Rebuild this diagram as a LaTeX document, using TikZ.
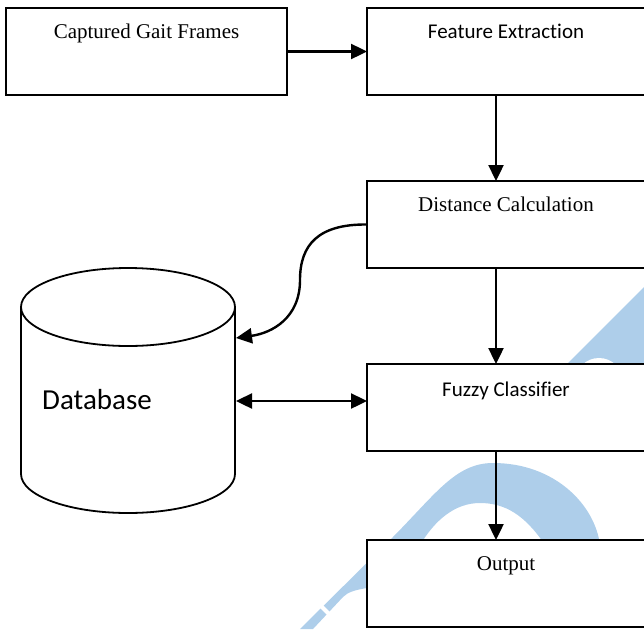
\documentclass[tikz,border=0pt]{standalone}
\usepackage{fontspec}
\setmainfont{Liberation Serif}
\newfontfamily\calibrifont[Ligatures=NoCommon]{Carlito}
\usepackage{tikz}
\usetikzlibrary{arrows.meta,positioning,calc}
\definecolor{markblue}{RGB}{174,206,234}
\tikzset{
  procbox/.style={draw, line width=2pt, fill=white, inner sep=0pt,
                  outer sep=0pt, minimum width=#1, minimum height=87pt},
  procbox/.default=278pt,
  seriflbl/.style={font=\fontsize{21}{25}\selectfont, anchor=base, inner sep=0pt},
  sanslbl/.style ={font=\calibrifont\fontsize{21}{25}\selectfont, anchor=base, inner sep=0pt},
  dbline/.style  ={line width=1.8pt},
  arr/.style     ={-{Triangle[length=16pt,width=15pt]}, line width=2.4pt},
  darr/.style    ={{Triangle[length=16pt,width=15pt]}-{Triangle[length=16pt,width=15pt]},
                   line width=2.4pt},
}

\begin{document}
\begin{tikzpicture}[x=1pt, y=-1pt]
  \useasboundingbox (0,0) rectangle (644,629);
  \clip (0,0) rectangle (644,629);

  % watermark in the background
  \fill[markblue] (567,364) -- (644,287) -- (644,364) -- cycle;
  \fill[white] (599,382) circle (24);
  \fill[markblue] (300,629) -- (390,540) .. controls (435,495) and (455,463) .. (493,463)
        .. controls (555,463) and (595,505) .. (600,545) -- (545,545)
        .. controls (525,515) and (505,503) .. (480,503)
        .. controls (455,503) and (435,520) .. (420,545) -- (367,588)
        .. controls (355,590) and (348,592) .. (343,597) -- (313,629) -- cycle;
  \draw[white, line width=4pt] (318,603) -- (334,619);

  \node[procbox=281pt] (cap) at (146.5,51.5) {};
  \node[procbox, right=80pt of cap] (feat) {};
  \node[procbox, below=86pt of feat] (dist) {};
  \node[procbox, below=96pt of dist] (fuz) {};
  \node[procbox, below=89pt of fuz] (out) {};

  \node[seriflbl] (capt)  at ([yshift=-30pt]cap.north)  {Captured Gait Frames};
  \node[sanslbl]  (featt) at ([yshift=-30pt]feat.north) {Feature Extraction};
  \node[seriflbl] (distt) at ([yshift=-30pt]dist.north) {Distance Calculation};
  \node[sanslbl]  (fuzt)  at ([yshift=-32pt]fuz.north)  {Fuzzy Classifier};
  \node[seriflbl] (outt)  at ([yshift=-30pt]out.north)  {Output};

  % database cylinder
  \draw[dbline, fill=white] (21,307) -- (21,474)
        arc[start angle=180, end angle=0, x radius=107, y radius=39] -- (235,307);
  \draw[dbline] (128,307) ellipse [x radius=107, y radius=39];
  \node[font=\calibrifont\fontsize{29}{34}\selectfont, anchor=base west, inner sep=0pt]
        (dbt) at (42,409) {Database};
  \coordinate (dbin) at (236,338);
  \coordinate (dbio) at (236,401);
  \coordinate (spine) at (496,0);

  \draw[arr] (cap.east) -- (feat.west);
  \draw[arr] (feat.south -| spine) -- (dist.north -| spine);
  \draw[arr] (dist.south -| spine) -- (fuz.north -| spine);
  \draw[arr] (fuz.south -| spine) -- (out.north -| spine);
  \draw[arr] (dist.west) .. controls (318,224) and (300,245) .. (300,280)
        .. controls (300,318) and (272,333) .. (dbin);
  \draw[darr] (dbio) -- (fuz.west |- dbio);
\end{tikzpicture}
\end{document}
